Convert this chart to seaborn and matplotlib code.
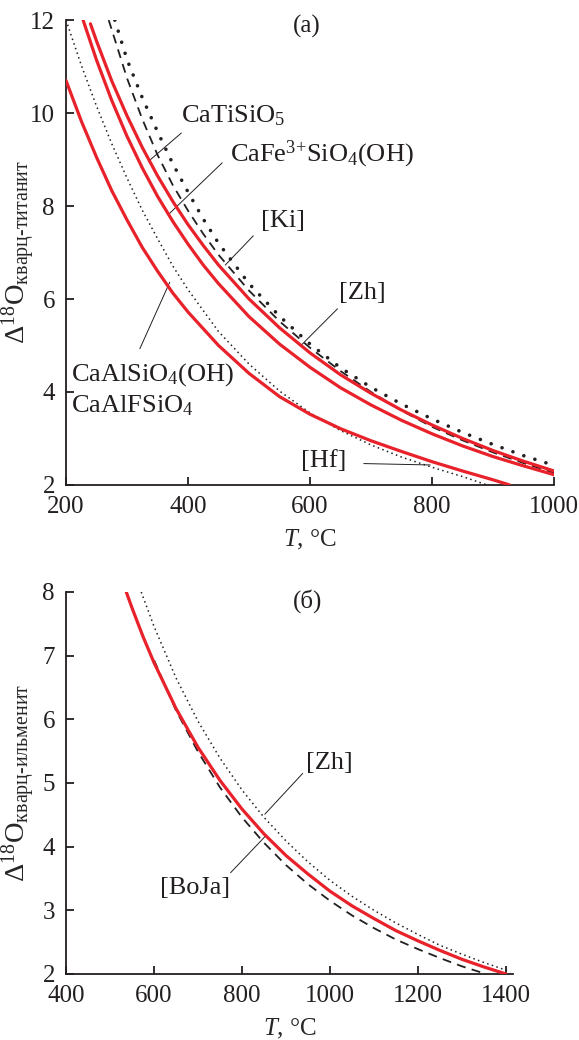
"""
Quartz-titanite and quartz-ilmenite oxygen isotope fractionation curves
"""

import pandas as pd
import matplotlib
matplotlib.use('Agg')
import matplotlib.pyplot as plt
import seaborn as sns

# ---- panel (a): quartz - titanite ----
t_al = [200, 225, 250, 275, 300, 325, 350, 375, 400, 450, 500, 550, 600, 650, 700, 750, 800, 850, 900, 927]
d_al = [10.7, 9.83, 9.05, 8.33, 7.7, 7.11, 6.6, 6.13, 5.72, 5.0, 4.4, 3.9, 3.52, 3.21, 2.95, 2.72, 2.5, 2.3, 2.11, 2.0]

t_fe = [228, 250, 275, 300, 325, 350, 375, 400, 425, 450, 500, 550, 600, 650, 700, 750, 800, 850, 900, 950, 1000]
d_fe = [12.0, 11.14, 10.27, 9.5, 8.82, 8.21, 7.67, 7.18, 6.73, 6.33, 5.62, 5.03, 4.53, 4.09, 3.72, 3.39, 3.1, 2.84,
        2.61, 2.41, 2.22]

t_ti = [240, 250, 275, 300, 325, 350, 375, 400, 425, 450, 500, 550, 600, 650, 700, 750, 800, 850, 900, 950, 1000]
d_ti = [11.92, 11.55, 10.69, 9.94, 9.26, 8.65, 8.1, 7.6, 7.15, 6.73, 6.0, 5.38, 4.84, 4.37, 3.97, 3.61, 3.29, 3.0,
        2.74, 2.51, 2.3]

t_ki = [270, 300, 325, 350, 375, 400, 425, 450, 500, 550, 600, 650, 700, 750, 800, 850, 900, 950, 1000]
d_ki = [12.0, 10.75, 9.87, 9.1, 8.45, 7.9, 7.4, 6.95, 6.18, 5.52, 4.95, 4.45, 4.0, 3.6, 3.25, 2.96, 2.7, 2.47, 2.26]

t_zh = [280, 300, 325, 350, 375, 400, 425, 450, 500, 550, 600, 650, 700, 750, 800, 850, 900, 950, 1000]
d_zh = [12.0, 11.15, 10.33, 9.6, 8.91, 8.3, 7.72, 7.2, 6.33, 5.63, 5.03, 4.52, 4.1, 3.74, 3.42, 3.13, 2.87, 2.63, 2.42]

t_hf = [200, 225, 250, 275, 300, 325, 350, 375, 400, 450, 500, 550, 600, 650, 700, 750, 800, 850, 890]
d_hf = [12.0, 11.03, 10.15, 9.34, 8.6, 7.91, 7.3, 6.71, 6.2, 5.3, 4.6, 4.02, 3.55, 3.17, 2.86, 2.6, 2.38, 2.18, 2.0]

# ---- panel (б): quartz - ilmenite ----
t_ilm = [537, 550, 575, 600, 650, 700, 750, 800, 850, 900, 950, 1000, 1050, 1100, 1150, 1200, 1250, 1300, 1350, 1400]
d_ilm = [8.0, 7.75, 7.3, 6.89, 6.17, 5.56, 5.04, 4.59, 4.2, 3.86, 3.57, 3.3, 3.07, 2.87, 2.68, 2.52, 2.37, 2.23,
         2.11, 2.0]

t_boja = [600, 650, 700, 750, 800, 850, 900, 950, 1000, 1050, 1100, 1150, 1200, 1250, 1300, 1350, 1355]
d_boja = [6.93, 6.14, 5.49, 4.93, 4.46, 4.06, 3.71, 3.41, 3.15, 2.92, 2.72, 2.54, 2.39, 2.25, 2.12, 2.01, 2.0]

t_zh2 = [571, 600, 650, 700, 750, 800, 850, 900, 950, 1000, 1050, 1100, 1150, 1200, 1250, 1300, 1350, 1400, 1410]
d_zh2 = [8.0, 7.46, 6.65, 5.97, 5.39, 4.89, 4.46, 4.09, 3.76, 3.47, 3.22, 3.0, 2.8, 2.62, 2.45, 2.31, 2.18, 2.06, 2.04]

# labels: text, x, y of text, leader start, leader end
labels_a = [
    ('CaTiSiO$_5$', 389, 9.79, (389, 9.57), (335, 8.96)),
    ('CaFe$^{\\text{3+}}$SiO$_4$(OH)', 468, 8.96, (456, 8.93), (368, 7.82)),
    ('[Ki]', 519, 7.54, (507, 7.36), (461, 6.73)),
    ('[Zh]', 648, 6.0, (645, 5.79), (585, 5.0)),
    ('CaAlSiO$_4$(OH)', 209, 4.25, (321, 4.93), (370, 6.36)),
    ('CaAlFSiO$_4$', 209, 3.57, None, None),
    ('[Hf]', 585, 2.39, (688, 2.46), (797, 2.43)),
]
labels_b = [
    ('[Zh]', 946, 5.22, (938, 5.15), (852, 4.51)),
    ('[BoJa]', 614, 3.25, (774, 3.59), (854, 4.17)),
]

RED = '#e8212a'
INK = '#231f20'

sns.set_style("ticks")
plt.rcParams['font.family'] = ['Liberation Serif', 'DejaVu Serif']
plt.rcParams['mathtext.fontset'] = 'custom'
plt.rcParams['mathtext.rm'] = 'Liberation Serif'
plt.rcParams['mathtext.it'] = 'Liberation Serif:italic'
plt.rcParams['font.size'] = 18
plt.rcParams['text.color'] = INK


def draw_curve(ax, t, d, style):
    df = pd.DataFrame({'T': t, 'D': d})
    sns.lineplot(data=df, x='T', y='D', ax=ax, sort=False, **style)


red = dict(color=RED, linewidth=2.3, zorder=3)
dashed = dict(color=INK, linewidth=1.3, linestyle=(0, (5, 3.5)), zorder=2)
thin_dot = dict(color=INK, linewidth=1.1, linestyle=(0, (1, 2.2)), zorder=2)
bold_dot = dict(color=INK, linewidth=2.6, linestyle=(0, (0.01, 3.2)),
                dash_capstyle='round', zorder=2)


def style_axes(ax, xlim, ylim, xticks, yticks, ylabel):
    ax.set_xlim(*xlim)
    ax.set_ylim(*ylim)
    ax.set_xticks(xticks)
    ax.set_yticks(yticks)
    ax.tick_params(direction='in', length=6, width=1.3, colors=INK, labelsize=18)
    ax.tick_params(axis='x', pad=8)
    ax.tick_params(axis='y', pad=8)
    for side in ['top', 'right']:
        ax.spines[side].set_visible(False)
    for side in ['left', 'bottom']:
        ax.spines[side].set_linewidth(1.3)
        ax.spines[side].set_color(INK)
    ax.set_xlabel('$T$, °C', fontsize=18, labelpad=7)
    ax.set_ylabel(ylabel, fontsize=20.5)


def add_labels(ax, labels):
    for text, x, y, p0, p1 in labels:
        ax.text(x, y, text, ha='left', va='baseline', fontsize=19)
        if p0 is not None:
            ax.plot([p0[0], p1[0]], [p0[1], p1[1]], color=INK, linewidth=0.7)


fig = plt.figure(figsize=(5.79, 10.4), dpi=100)
ax1 = fig.add_axes([0.114, 0.5337, 0.843, 0.447])
ax2 = fig.add_axes([0.114, 0.0635, 0.772, 0.3673])

# panel (a)
draw_curve(ax1, t_hf, d_hf, thin_dot)
draw_curve(ax1, t_ki, d_ki, dashed)
draw_curve(ax1, t_zh, d_zh, bold_dot)
draw_curve(ax1, t_al, d_al, red)
draw_curve(ax1, t_fe, d_fe, red)
draw_curve(ax1, t_ti, d_ti, red)
style_axes(ax1, (200, 1000), (2, 12), [200, 400, 600, 800, 1000], [2, 4, 6, 8, 10, 12],
           '$\\Delta^{18}$O$_{\\text{кварц-титанит}}$')
ax1.yaxis.set_label_coords(-0.057, 0.5)
add_labels(ax1, labels_a)
ax1.text(595, 11.87, '(а)', ha='center', va='center', fontsize=18)

# panel (б)
draw_curve(ax2, t_zh2, d_zh2, thin_dot)
draw_curve(ax2, t_boja, d_boja, dashed)
draw_curve(ax2, t_ilm, d_ilm, red)
style_axes(ax2, (400, 1416), (2, 8), [400, 600, 800, 1000, 1200, 1400], [2, 3, 4, 5, 6, 7, 8],
           '$\\Delta^{18}$O$_{\\text{кварц-ильменит}}$')
ax2.yaxis.set_label_coords(-0.063, 0.5)
add_labels(ax2, labels_b)
ax2.text(948, 7.86, '(б)', ha='center', va='center', fontsize=18)

plt.savefig('out.png', dpi=100)
plt.close()
